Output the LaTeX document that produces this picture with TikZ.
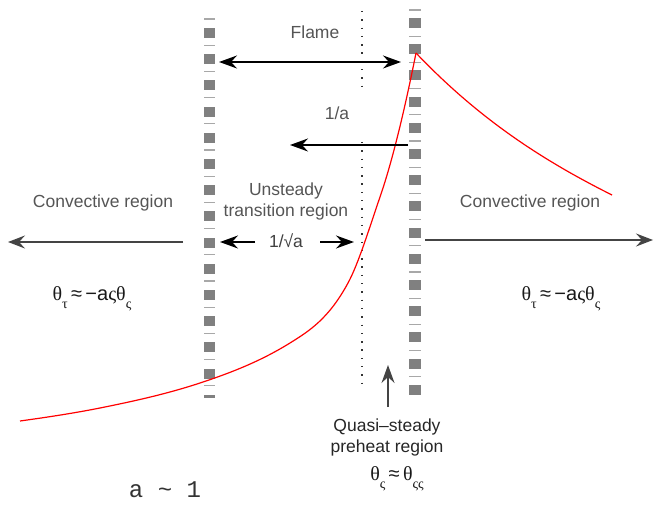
\documentclass[tikz,border=0pt]{standalone}
\usepackage{fontspec}
\setmainfont{Liberation Sans}
\newfontfamily\grk{Liberation Serif}
\newfontfamily\mono{Liberation Mono}
\usetikzlibrary{arrows.meta}
\definecolor{txtgray}{HTML}{555555}
\definecolor{arrgray}{HTML}{444444}
\definecolor{sqgray}{HTML}{808080}
\definecolor{lngray}{HTML}{A8A8A8}
\tikzset{
  lbl/.style={font=\fontsize{17.5}{21}\selectfont, text=txtgray, align=center, inner sep=0pt},
  blk/.style={font=\fontsize{17.5}{21}\selectfont, text=black!85, align=center, inner sep=0pt},
  eq/.style={font=\fontsize{20}{22}\selectfont, text=black!90, inner sep=0pt},
  arr/.style={-{Stealth[length=18pt,width=13pt,inset=6pt]}, line width=1.3pt, black},
  darr/.style={{Stealth[length=18pt,width=13pt,inset=6pt]}-{Stealth[length=18pt,width=13pt,inset=6pt]}, line width=1.3pt, black},
  garr/.style={-{Stealth[length=17pt,width=13pt,inset=6pt]}, line width=1.2pt, arrgray},
  sq/.style={fill=sqgray, draw=none},
  thin/.style={draw=lngray, line width=1.3pt},
  dots/.style={line width=1.4pt, dash pattern=on 1.4pt off 6.9pt, black!80},
  curve/.style={red, line width=1.2pt}
}
\newcommand{\gsub}[1]{\raisebox{-8pt}{\fontsize{14}{14}\selectfont\grk #1}}
\begin{document}
\begin{tikzpicture}[x=1pt,y=-1pt]
\useasboundingbox (0,0) rectangle (654,505);
% left bar
\foreach \k in {0,...,13} {
  \fill[sq] (204,{28+\k*26.2}) rectangle (215,{38+\k*26.2});
}
\fill[sq] (204,394.8) rectangle (215,398);
\foreach \k in {0,...,14} {
  \draw[thin] (204,{19+\k*26.2}) -- (215,{19+\k*26.2});
}
% right bar
\foreach \k in {0,...,14} {
  \fill[sq] (409,{18+\k*26.2}) rectangle (421,{28+\k*26.2});
}
\foreach \k in {0,...,14} {
  \draw[thin] (409,{10+\k*26.2}) -- (421,{10+\k*26.2});
}
% dotted flame line
\coordinate (d1) at (362,11);
\coordinate (d2) at (362,93);
\coordinate (d3) at (362,142);
\coordinate (d4) at (362,387);
\draw[dots] (d1) -- (d2);
\draw[dots] (d3) -- (d4);
% red curves
\coordinate (top) at (416,53);
\draw[curve] (20,421) .. controls (46.7,417.3) and (73.3,413.3) .. (100,408)
  .. controls (133.3,401.3) and (166.7,394) .. (200,383)
  .. controls (230,373.1) and (260,361.6) .. (290,343)
  .. controls (309.3,331) and (328.7,318.7) .. (348,283)
  .. controls (358.7,263.3) and (369.3,227.9) .. (380,197)
  .. controls (392,162.2) and (404,113) .. (top);
\draw[curve] (top) .. controls (481.3,121.6) and (546.7,162.3) .. (612,195);
% texts
\node[lbl] (flame) at (315,32) {Flame};
\node[lbl] (inva) at (337,113) {1/a};
\node[lbl] (unst) at (286,201) {Unsteady\\transition region};
\node[lbl, text=black!75] (sqa) at (286,241) {1/√a};
\node[lbl] (convL) at (103,203) {Convective region};
\node[lbl] (convR) at (530,203) {Convective region};
\node[blk] (quasi) at (387,437) {Quasi–steady\\preheat region};
\node[eq] (thL) at (92,299) {{\grk θ}\gsub{τ}\,≈\,−a{\grk ςθ}\gsub{ς}};
\node[eq] (thR) at (561,299) {{\grk θ}\gsub{τ}\,≈\,−a{\grk ςθ}\gsub{ς}};
\node[eq] (thQ) at (397,479) {{\grk θ}\gsub{ς}\,≈\,{\grk θ}\gsub{ςς}};
\node[inner sep=0pt, font=\fontsize{24}{24}\selectfont\mono, text=black!80] (aone) at (165,490) {a \char`\~{} 1};
% arrows
\coordinate (fL) at (219,62);
\coordinate (fR) at (401,62);
\draw[darr] (fL) -- (fR);
\coordinate (aS) at (408,145);
\coordinate (aE) at (290,145);
\draw[arr] (aS) -- (aE);
\coordinate (sL0) at (255,242);
\coordinate (sL1) at (220,242);
\coordinate (sR0) at (320,242);
\coordinate (sR1) at (354,242);
\draw[arr] (sL0) -- (sL1);
\draw[arr] (sR0) -- (sR1);
\coordinate (cL0) at (183,242);
\coordinate (cL1) at (8,242);
\draw[garr] (cL0) -- (cL1);
\coordinate (cR0) at (425,240);
\coordinate (cR1) at (653,240);
\draw[garr] (cR0) -- (cR1);
\coordinate (q0) at (388,407);
\coordinate (q1) at (388,365);
\draw[arr, line width=1.2pt, arrgray] (q0) -- (q1);
\end{tikzpicture}
\end{document}
